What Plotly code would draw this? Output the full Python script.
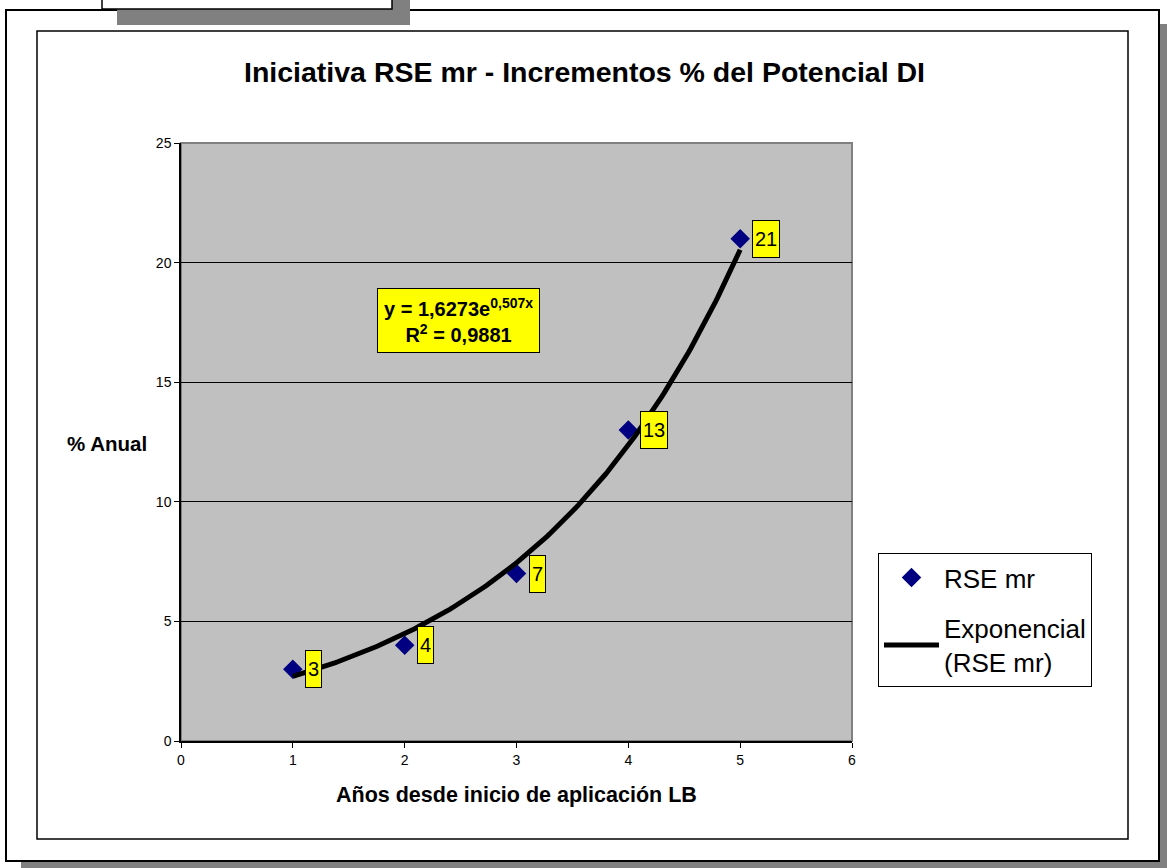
import numpy as np
import plotly.graph_objects as go

# ---- data ----
years = [1, 2, 3, 4, 5]
values = [3, 4, 7, 13, 21]
series_name = "RSE mr"
trend_name = "Exponencial<br>(RSE mr)"
title_text = "Iniciativa RSE mr - Incrementos % del Potencial DI"
x_title = "Años desde inicio de aplicación LB"
y_title = "% Anual"
x_ticks = [0, 1, 2, 3, 4, 5, 6]
y_ticks = [0, 5, 10, 15, 20, 25]

# exponential trendline fitted from the data (as Excel does: least squares on ln y)
xa = np.array(years, dtype=float)
ya = np.array(values, dtype=float)
b, ln_a = np.polyfit(xa, np.log(ya), 1)
a = np.exp(ln_a)
pred = ln_a + b * xa
ss_res = np.sum((np.log(ya) - pred) ** 2)
ss_tot = np.sum((np.log(ya) - np.log(ya).mean()) ** 2)
r2 = 1 - ss_res / ss_tot
xt = np.linspace(min(years), max(years), 200)
yt = a * np.exp(b * xt)

def comma(v, d):
    return f"{v:.{d}f}".replace(".", ",")

eq_text = f"y = {comma(a, 4)}e<sup>{comma(b, 3)}x</sup><br>R<sup>2</sup> = {comma(r2, 4)}"

# ---- geometry (pixels) ----
W, H = 1167, 868
L, R, T, B = 181, 852, 143, 741
pw, ph = R - L, B - T

def px(x):
    return (x - L) / pw

def py(y):
    return (B - y) / ph

FONT = "Liberation Sans, Arial, sans-serif"

fig = go.Figure()
fig.add_trace(go.Scatter(
    x=years, y=values, mode="markers", name=series_name,
    marker=dict(symbol="diamond", size=15, color="#000080"),
    legendgroup="a", cliponaxis=False,
))
fig.add_trace(go.Scatter(
    x=xt, y=yt, mode="lines", name=trend_name,
    line=dict(color="black", width=5),
    legendgroup="b",
))

shapes = []
def rect(x0, y0, x1, y1, fill, line_color=None, lw=0):
    shapes.append(dict(
        type="rect", xref="paper", yref="paper",
        x0=px(x0), x1=px(x1), y0=py(y1), y1=py(y0),
        fillcolor=fill, layer="below",
        line=dict(color=line_color or fill, width=lw),
    ))

# outer frame with shadow
rect(21, 24, 1180, 880, "#808080")
rect(6, 10, 1159, 861, "white", "black", 2)
# inner chart area
rect(37, 31, 1128, 839, "white", "black", 1.5)
# small box at top with shadow
rect(117, -5, 410, 25, "#808080")
rect(102, -10, 392, 9, "white", "black", 1.5)
# plot area background + border
shapes.append(dict(type="rect", xref="paper", yref="paper", x0=0, x1=1, y0=0, y1=1,
                   line=dict(color="#808080", width=2), layer="below",
                   fillcolor="#C0C0C0"))

annotations = []
for xv, yv in zip(years, values):
    annotations.append(dict(
        x=xv, y=yv, xref="x", yref="y", text=str(yv), showarrow=False,
        xanchor="left", yanchor="middle", xshift=12,
        font=dict(family=FONT, size=20, color="black"),
        bgcolor="#FFFF00", bordercolor="black", borderwidth=1,
        borderpad=2, height=32,
    ))

annotations.append(dict(
    x=px(458), y=py(320), xref="paper", yref="paper", text=eq_text, showarrow=False,
    xanchor="center", yanchor="middle",
    font=dict(family=FONT, size=20, color="black", weight="bold"),
    bgcolor="#FFFF00", bordercolor="black", borderwidth=1, borderpad=6,
))
annotations.append(dict(
    x=px(584), y=py(72), xref="paper", yref="paper", text=f"<b>{title_text}</b>",
    showarrow=False, xanchor="center", yanchor="middle",
    font=dict(family=FONT, size=28.5, color="black"),
))
annotations.append(dict(
    x=px(107), y=py(443), xref="paper", yref="paper", text=f"<b>{y_title}</b>",
    showarrow=False, xanchor="center", yanchor="middle",
    font=dict(family=FONT, size=20.5, color="black"),
))
annotations.append(dict(
    x=0.5, y=py(795), xref="paper", yref="paper", text=f"<b>{x_title}</b>",
    showarrow=False, xanchor="center", yanchor="middle",
    font=dict(family=FONT, size=21.5, color="black"),
))

fig.update_layout(
    width=W, height=H,
    margin=dict(l=L, r=W - R, t=T, b=H - B, pad=0),
    paper_bgcolor="white", plot_bgcolor="rgba(0,0,0,0)",
    shapes=shapes, annotations=annotations,
    showlegend=True,
    legend=dict(
        x=px(878), y=py(553), xanchor="left", yanchor="top",
        bordercolor="black", borderwidth=1, bgcolor="white",
        font=dict(family=FONT, size=26, color="black"),
        traceorder="grouped", tracegroupgap=14,
        itemwidth=55,
    ),
    font=dict(family=FONT, color="black"),
)
fig.update_xaxes(
    range=[0, 6], tickvals=x_ticks, ticks="outside", ticklen=5, tickcolor="black",
    showline=True, linecolor="black", linewidth=1.5, showgrid=False, zeroline=False,
    tickfont=dict(family=FONT, size=14, color="black"), fixedrange=True,
)
fig.update_yaxes(
    range=[0, 25], tickvals=y_ticks, ticks="outside", ticklen=5, tickcolor="black",
    showline=True, linecolor="black", linewidth=1.5, showgrid=True, gridcolor="black",
    gridwidth=1, zeroline=False,
    tickfont=dict(family=FONT, size=14, color="black"), fixedrange=True,
)

fig.write_html("out.html", post_script="document.body.style.margin='0';",
               config={"displayModeBar": False})
